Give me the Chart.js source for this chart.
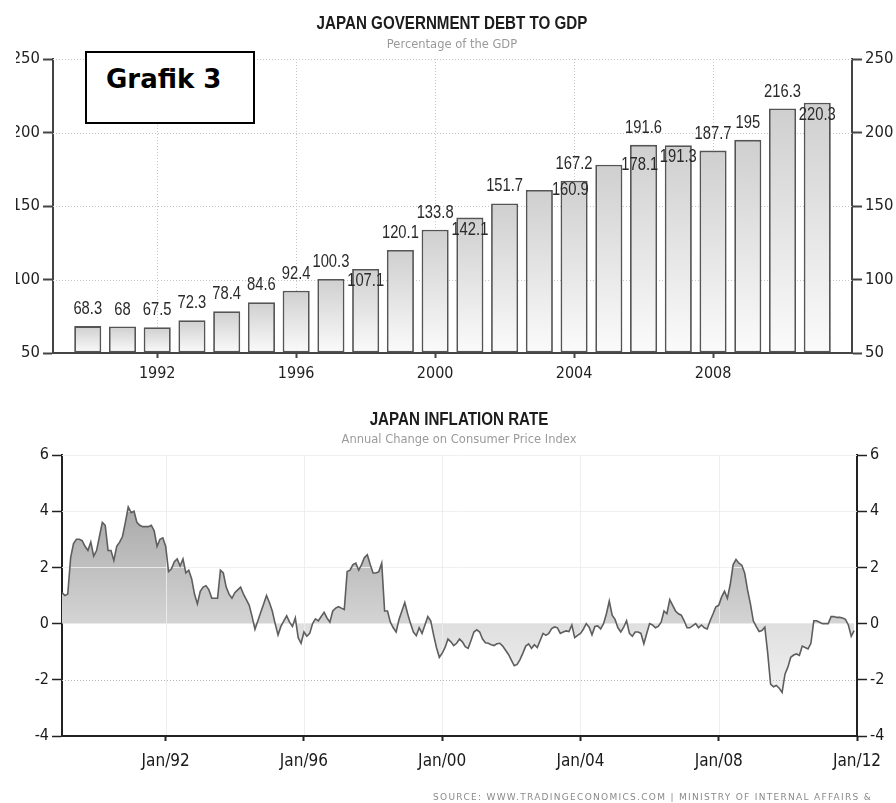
<!DOCTYPE html>
<html><head><meta charset="utf-8">
<script src="https://cdn.jsdelivr.net/npm/chart.js@4.4.1/dist/chart.umd.min.js"></script>
<style>
html,body{margin:0;padding:0;background:#fff;}
body{width:896px;height:803px;overflow:hidden;position:relative;}
canvas{position:absolute;left:0;}
#c1{top:0;}
#c2{top:395px;}
.ttl{position:absolute;white-space:nowrap;transform:translateX(-50%) scaleX(0.82);font-family:'Liberation Sans',Arial,sans-serif;font-weight:bold;font-size:18.5px;line-height:20px;color:#1c1c1c;}
.sub{position:absolute;white-space:nowrap;transform:translateX(-50%);font-family:'DejaVu Sans',sans-serif;font-size:11.5px;line-height:14px;color:#9a9a9a;}
#box{position:absolute;left:85px;top:51px;width:170px;height:73px;border:2px solid #000;box-sizing:border-box;background:#fff;}
#grafik{position:absolute;left:106px;top:64px;font-family:'DejaVu Sans',sans-serif;font-weight:bold;font-size:26px;line-height:30px;color:#000;white-space:nowrap;}
#crop{position:absolute;left:0;top:0;width:16px;height:395px;background:#fff;}
#src{position:absolute;left:433px;top:792px;font-family:'DejaVu Sans',sans-serif;font-size:9px;line-height:11px;letter-spacing:1.3px;color:#8a8a8a;white-space:nowrap;}
</style></head>
<body>
<canvas id="c1" width="896" height="395"></canvas>
<canvas id="c2" width="896" height="408"></canvas>
<div id="crop"></div>
<div class="ttl" style="left:452px;top:13px;">JAPAN GOVERNMENT DEBT TO GDP</div>
<div class="sub" style="left:452px;top:37px;">Percentage of the GDP</div>
<div id="box"></div>
<div id="grafik">Grafik 3</div>
<div class="ttl" style="left:459px;top:409px;">JAPAN INFLATION RATE</div>
<div class="sub" style="left:459px;top:432px;">Annual Change on Consumer Price Index</div>
<div id="src">SOURCE: WWW.TRADINGECONOMICS.COM | MINISTRY OF INTERNAL AFFAIRS &amp;</div>
<script>
// ---------- DATA ----------
const debtYears = [1990,1991,1992,1993,1994,1995,1996,1997,1998,1999,2000,2001,2002,2003,2004,2005,2006,2007,2008,2009,2010,2011];
const debtValues = [68.3,68,67.5,72.3,78.4,84.6,92.4,100.3,107.1,120.1,133.8,142.1,151.7,160.9,167.2,178.1,191.6,191.3,187.7,195,216.3,220.3];
const debtTickYears = [1992,1996,2000,2004,2008];
const debtAxisMin = 50, debtAxisMax = 250, debtAxisStep = 50;

// label placement as in the original picture
const debtLabelPlacement = ['above','above','above','above','above','above','above','above','inside','above','above','inside','above','right','above','right','above','inside','above','above','above','inside'];

// monthly CPI annual change, starting Jan 1989
const inflationStartYear = 1989;
const inflationValues = [
  1.1, 1.0, 1.05, 2.35, 2.85, 3.0, 3.0, 2.95, 2.75, 2.6, 2.9, 2.4,
  2.6, 3.1, 3.6, 3.5, 2.6, 2.6, 2.25, 2.75, 2.9, 3.1, 3.6, 4.15,
  3.95, 4.0, 3.6, 3.5, 3.45, 3.45, 3.45, 3.5, 3.3, 2.75, 3.0, 3.05,
  2.75, 1.85, 1.95, 2.2, 2.3, 2.05, 2.3, 1.8, 1.9, 1.6, 1.05, 0.7,
  1.15, 1.3, 1.35, 1.2, 0.9, 0.9, 0.9, 1.9, 1.8, 1.3, 1.05, 0.9,
  1.1, 1.2, 1.3, 1.05, 0.85, 0.65, 0.25, -0.2, 0.1, 0.4, 0.7, 1.0,
  0.75, 0.45, 0.0, -0.4, -0.1, 0.1, 0.28, 0.05, -0.1, 0.2, -0.5, -0.7,
  -0.3, -0.45, -0.35, 0.0, 0.17, 0.1, 0.25, 0.4, 0.2, 0.05, 0.45, 0.55,
  0.6, 0.55, 0.5, 1.85, 1.9, 2.1, 2.15, 1.9, 2.1, 2.35, 2.45, 2.1,
  1.8, 1.8, 1.85, 2.15, 0.45, 0.45, 0.05, -0.15, -0.3, 0.15, 0.45, 0.75,
  0.35, 0.0, -0.3, -0.43, -0.15, -0.35, -0.05, 0.25, 0.1, -0.4, -0.85, -1.2,
  -1.05, -0.85, -0.55, -0.65, -0.78, -0.7, -0.55, -0.65, -0.82, -0.88, -0.6, -0.3,
  -0.22, -0.3, -0.55, -0.68, -0.7, -0.75, -0.78, -0.72, -0.7, -0.8, -0.95, -1.1,
  -1.3, -1.5, -1.45, -1.28, -1.05, -0.8, -0.72, -0.88, -0.75, -0.85, -0.6, -0.35,
  -0.42, -0.35, -0.18, -0.12, -0.15, -0.35, -0.3, -0.26, -0.28, -0.05, -0.5, -0.42,
  -0.35, -0.2, 0.0, -0.13, -0.4, -0.1, -0.08, -0.19, 0.0, 0.35, 0.8, 0.3,
  0.15, -0.15, -0.3, -0.13, 0.1, -0.35, -0.45, -0.3, -0.3, -0.35, -0.72, -0.35,
  0.0, -0.05, -0.15, -0.1, 0.05, 0.45, 0.35, 0.85, 0.65, 0.45, 0.35, 0.3,
  0.1, -0.15, -0.15, -0.07, 0.0, -0.15, -0.05, -0.15, -0.19, 0.1, 0.34, 0.6,
  0.65, 0.95, 1.15, 0.9, 1.4, 2.1, 2.28, 2.15, 2.08, 1.8, 1.2, 0.7,
  0.1, -0.1, -0.28, -0.25, -0.13, -1.05, -2.15, -2.25, -2.2, -2.3, -2.45, -1.8,
  -1.55, -1.2, -1.12, -1.08, -1.13, -0.8, -0.85, -0.9, -0.7, 0.1, 0.1, 0.05,
  0.0, 0.0, 0.0, 0.25, 0.25, 0.22, 0.22, 0.2, 0.15, -0.05, -0.45, -0.25
];
const inflationTickYears = [1992,1996,2000,2004,2008,2012];
const inflationTickLabels = ['Jan/92','Jan/96','Jan/00','Jan/04','Jan/08','Jan/12'];
const inflationAxisMin = -4, inflationAxisMax = 6, inflationAxisStep = 2;
const axisYearMin = 1989, axisYearMax = 2012;

// ---------- STYLE ----------
const tickFont = {family:"'DejaVu Sans Condensed','DejaVu Sans',sans-serif", size:16};
const yTickFontTop = {family:tickFont.family, size:16.5};
const labelFontCss = "18px 'Liberation Sans',Arial,sans-serif";
const narrow = 0.82;

// ---------- TOP CHART ----------
const grid1 = {
  id:'grid1',
  beforeDatasetsDraw(chart){
    const {ctx, chartArea:a, scales} = chart;
    ctx.save();
    ctx.strokeStyle = '#c6c6c6'; ctx.lineWidth = 1; ctx.setLineDash([1,2]);
    scales.y.ticks.forEach(t => {
      if (t.value <= debtAxisMin) return;
      const py = Math.round(scales.y.getPixelForValue(t.value)) + 0.5;
      ctx.beginPath(); ctx.moveTo(a.left, py); ctx.lineTo(a.right, py); ctx.stroke();
    });
    debtTickYears.forEach(v => {
      const px = Math.round(scales.x.getPixelForValue(v)) + 0.5;
      ctx.beginPath(); ctx.moveTo(px, a.top); ctx.lineTo(px, a.bottom - 1); ctx.stroke();
    });
    ctx.restore();
  }
};
const barLabels = {
  id:'barLabels',
  afterDatasetsDraw(chart){
    const {ctx} = chart;
    const meta = chart.getDatasetMeta(0);
    meta.data.forEach((bar, i) => {
      let x = bar.x, y = bar.y;
      const mode = debtLabelPlacement[i];
      if (mode === 'above') y -= 17;
      else if (mode === 'inside') y += 12;
      else if (mode === 'right') x += 31;
      ctx.save();
      ctx.font = labelFontCss; ctx.fillStyle = '#2a2a2a'; ctx.textAlign = 'center'; ctx.textBaseline = 'middle';
      ctx.translate(x, y); ctx.scale(narrow, 1);
      ctx.fillText(String(debtValues[i]), 0, 0);
      ctx.restore();
    });
  }
};

function barGradient(c){
  const chart = c.chart, a = chart.chartArea;
  if (!a || c.type !== 'data') return '#e0e0e0';
  const top = chart.scales.y.getPixelForValue(c.parsed.y);
  const g = chart.ctx.createLinearGradient(0, top, 0, a.bottom);
  g.addColorStop(0, '#cfcfcf');
  g.addColorStop(1, '#fbfbfb');
  return g;
}

const yAxis1 = (pos, w) => ({
  type:'linear', position:pos, min:debtAxisMin, max:debtAxisMax, z:1,
  ticks:{stepSize:debtAxisStep, font:yTickFontTop, color:'#222', padding:3},
  grid:{drawOnChartArea:false, drawTicks:true, tickLength:10, tickColor:'#444', tickWidth:2},
  border:{display:true, color:'#444', width:2},
  afterFit:(s)=>{ s.width = w; }
});

new Chart(document.getElementById('c1'), {
  type:'bar',
  data:{
    datasets:[{
      data: debtYears.map((yr,i)=>({x:yr, y:debtValues[i]})),
      base: debtAxisMin,
      backgroundColor: barGradient,
      borderColor:'#555',
      borderWidth:1.8,
      borderSkipped:false,
      barPercentage:0.78,
      categoryPercentage:1
    }]
  },
  options:{
    responsive:false, animation:false, devicePixelRatio:1,
    layout:{padding:{top:59, left:0, right:0, bottom:0}},
    plugins:{legend:{display:false}, tooltip:{enabled:false}},
    scales:{
      x:{
        type:'linear', min:axisYearMin, max:axisYearMax, offset:false, z:1,
        afterBuildTicks:(s)=>{ s.ticks = debtTickYears.map(v=>({value:v})); },
        ticks:{callback:(v)=>String(v), font:tickFont, color:'#222', padding:6, autoSkip:false, maxRotation:0},
        grid:{drawOnChartArea:false, drawTicks:true, tickLength:5, tickColor:'#444', tickWidth:2, offset:false},
        border:{display:true, color:'#444', width:2},
        afterFit:(s)=>{ s.height = 42; }
      },
      y: yAxis1('left', 53),
      y2: yAxis1('right', 44)
    }
  },
  plugins:[grid1, barLabels]
});

// ---------- BOTTOM CHART ----------
const grid2 = {
  id:'grid2',
  beforeDatasetsDraw(chart){
    const {ctx, chartArea:a, scales} = chart;
    ctx.save();
    ctx.lineWidth = 1;
    scales.y.ticks.forEach(t => {
      if (t.value === 0 || t.value <= inflationAxisMin) return;
      const py = Math.round(scales.y.getPixelForValue(t.value)) + 0.5;
      if (t.value < 0) { ctx.setLineDash([1,2]); ctx.strokeStyle = '#b4b4b4'; }
      else { ctx.setLineDash([]); ctx.strokeStyle = 'rgba(238,238,238,0.9)'; }
      ctx.beginPath(); ctx.moveTo(a.left, py); ctx.lineTo(a.right, py); ctx.stroke();
    });
    ctx.setLineDash([]); ctx.strokeStyle = 'rgba(236,236,236,0.9)';
    inflationTickYears.forEach(v => {
      if (v >= axisYearMax) return;
      const px = Math.round(scales.x.getPixelForValue(v)) + 0.5;
      ctx.beginPath(); ctx.moveTo(px, a.top); ctx.lineTo(px, a.bottom - 1); ctx.stroke();
    });
    ctx.restore();
  }
};

function areaGradient(c){
  const chart = c.chart, a = chart.chartArea;
  if (!a) return '#dddddd';
  const z = (chart.scales.y.getPixelForValue(0) - a.top) / (a.bottom - a.top);
  const g = chart.ctx.createLinearGradient(0, a.top, 0, a.bottom);
  g.addColorStop(0, '#969696');
  g.addColorStop(z, '#d4d4d4');
  g.addColorStop(Math.min(1, z + 0.002), '#dfdfdf');
  g.addColorStop(1, '#fcfcfc');
  return g;
}

const yAxis2 = (pos, w) => ({
  type:'linear', position:pos, min:inflationAxisMin, max:inflationAxisMax, z:1,
  ticks:{stepSize:inflationAxisStep, font:tickFont, color:'#1a1a1a', padding:3},
  grid:{drawOnChartArea:false, drawTicks:true, tickLength:10, tickColor:'#222', tickWidth:1.5},
  border:{display:true, color:'#222', width:2},
  afterFit:(s)=>{ s.width = w; }
});

new Chart(document.getElementById('c2'), {
  type:'line',
  data:{
    datasets:[{
      data: inflationValues.map((v,i)=>({x: inflationStartYear + i/12, y: v})),
      borderColor:'#5e5e5e',
      borderWidth:1.6,
      pointRadius:0,
      tension:0,
      fill:'origin',
      backgroundColor: areaGradient
    }]
  },
  options:{
    responsive:false, animation:false, devicePixelRatio:1,
    layout:{padding:{top:60, left:0, right:0, bottom:0}},
    plugins:{legend:{display:false}, tooltip:{enabled:false}, filler:{drawTime:'beforeDatasetsDraw'}},
    scales:{
      x:{
        type:'linear', min:axisYearMin, max:axisYearMax, z:1,
        afterBuildTicks:(s)=>{ s.ticks = inflationTickYears.map(v=>({value:v})); },
        ticks:{callback:(v)=>inflationTickLabels[inflationTickYears.indexOf(v)], font:{family:tickFont.family, size:17}, color:'#1a1a1a', padding:10, autoSkip:false, maxRotation:0},
        grid:{drawOnChartArea:false, drawTicks:true, tickLength:5, tickColor:'#222', tickWidth:2},
        border:{display:true, color:'#222', width:2},
        afterFit:(s)=>{ s.height = 67; }
      },
      y: yAxis2('left', 62),
      y2: yAxis2('right', 39)
    }
  },
  plugins:[grid2]
});
</script>
</body></html>
